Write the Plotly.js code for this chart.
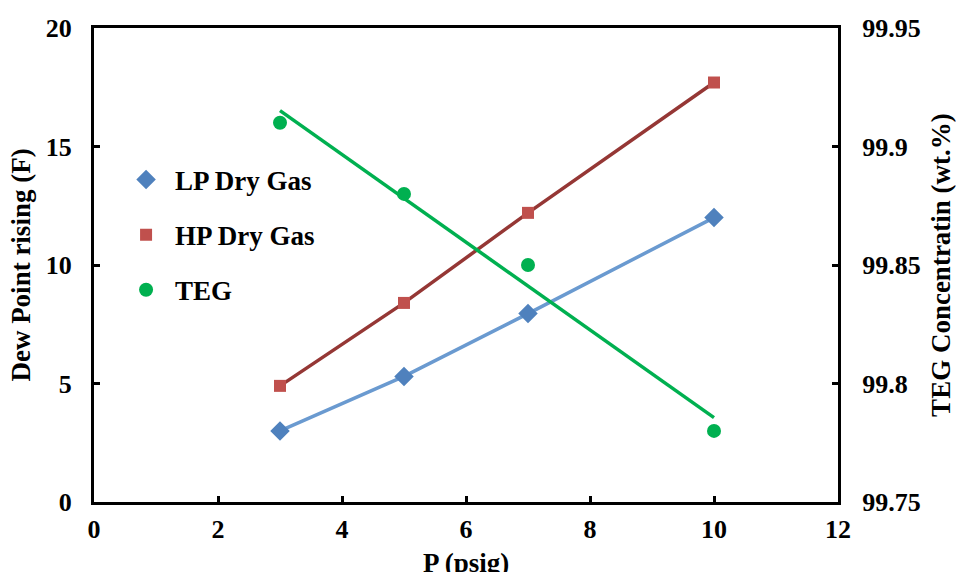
<!DOCTYPE html>
<html><head><meta charset="utf-8">
<script src="https://cdn.plot.ly/plotly-3.0.1.min.js"></script>
<style>body{margin:0;background:#fff}#c{width:956px;height:572px}</style>
</head><body><div id="c"></div>
<script>
const pressure = [3, 5, 7, 10];
const lpDryGas = [3.0, 5.3, 7.95, 12.0];
const hpDryGas = [4.9, 8.4, 12.2, 17.7];
const tegConc = [99.91, 99.88, 99.85, 99.78];
const xTicks = [0, 2, 4, 6, 8, 10, 12];
const yTicks = [0, 5, 10, 15, 20];
const y2Ticks = [99.75, 99.8, 99.85, 99.9, 99.95];
const y2Labels = ['99.75', '99.8', '99.85', '99.9', '99.95'];

// least-squares trendline for TEG over data range
function fit(x, y) {
  const n = x.length;
  const mx = x.reduce((a, b) => a + b, 0) / n;
  const my = y.reduce((a, b) => a + b, 0) / n;
  let sxy = 0, sxx = 0;
  for (let i = 0; i < n; i++) { sxy += (x[i] - mx) * (y[i] - my); sxx += (x[i] - mx) ** 2; }
  const m = sxy / sxx, b = my - m * mx;
  const xs = [Math.min(...x), Math.max(...x)];
  return { x: xs, y: xs.map(v => m * v + b) };
}
const tegFit = fit(pressure, tegConc);
const B = s => '<b>' + s + '</b>';

const fam = 'Times New Roman, Liberation Serif, serif';
const tickFont = { family: fam, size: 26, color: '#000' };
const font = { family: fam, size: 27, color: '#000' };
const traces = [
  { x: pressure, y: lpDryGas, mode: 'lines', line: { color: '#6A9AD0', width: 3.5 }, showlegend: false, hoverinfo: 'skip' },
  { x: pressure, y: hpDryGas, mode: 'lines', line: { color: '#953735', width: 3.5 }, showlegend: false, hoverinfo: 'skip' },
  { x: tegFit.x, y: tegFit.y, yaxis: 'y2', mode: 'lines', line: { color: '#00B050', width: 3.5 }, showlegend: false, hoverinfo: 'skip' },
  { x: pressure, y: lpDryGas, name: B('LP Dry Gas'), legendgroup: 'a', mode: 'markers', marker: { symbol: 'diamond', size: 15, color: '#4F81BD' } },
  { x: pressure, y: hpDryGas, name: B('HP Dry Gas'), legendgroup: 'b', mode: 'markers', marker: { symbol: 'square', size: 12, color: '#C0504D' } },
  { x: pressure, y: tegConc, name: B('TEG'), legendgroup: 'c', yaxis: 'y2', mode: 'markers', marker: { symbol: 'circle', size: 14, color: '#00B050' } }
];
const axBase = { showgrid: false, zeroline: false, showline: true, linecolor: '#000', linewidth: 3,
  ticks: 'inside', ticklen: 6, tickwidth: 3, tickcolor: '#000', tickfont: tickFont };
const layout = {
  width: 956, height: 572,
  margin: { l: 94, r: 118, t: 28, b: 70 },
  paper_bgcolor: '#fff', plot_bgcolor: '#fff',
  font: font,
  showlegend: true,
  legend: { x: 0.031, y: 0.731, xanchor: 'left', yanchor: 'top', bgcolor: 'rgba(0,0,0,0)',
    font: font, tracegroupgap: 17, itemsizing: 'trace', itemwidth: 48, traceorder: 'grouped' },
  xaxis: Object.assign({}, axBase, { range: [0, 12], tickvals: xTicks, ticktext: xTicks.map(v => B(v)), mirror: true,
    ticklabelstandoff: 2 }),
  yaxis: Object.assign({}, axBase, { range: [0, 20], tickvals: yTicks, ticktext: yTicks.map(v => B(v)),
    ticklabelstandoff: 14,
    title: { text: B('Dew Point rising (F)'), font: font, standoff: 8 } }),
  yaxis2: Object.assign({}, axBase, { range: [99.75, 99.95], overlaying: 'y', side: 'right',
    tickvals: y2Ticks, ticktext: y2Labels.map(B), ticklabelstandoff: 16,
    title: { text: B('TEG Concentratin (wt.%)'), font: font, standoff: 27 } }),
  annotations: [
    { text: B('P (psig)'), xref: 'paper', yref: 'paper', x: 0.5, y: -0.128, xanchor: 'center', yanchor: 'middle',
      showarrow: false, font: font }
  ]
};
Plotly.newPlot('c', traces, layout, { displayModeBar: false, staticPlot: true });
</script>
</body></html>
